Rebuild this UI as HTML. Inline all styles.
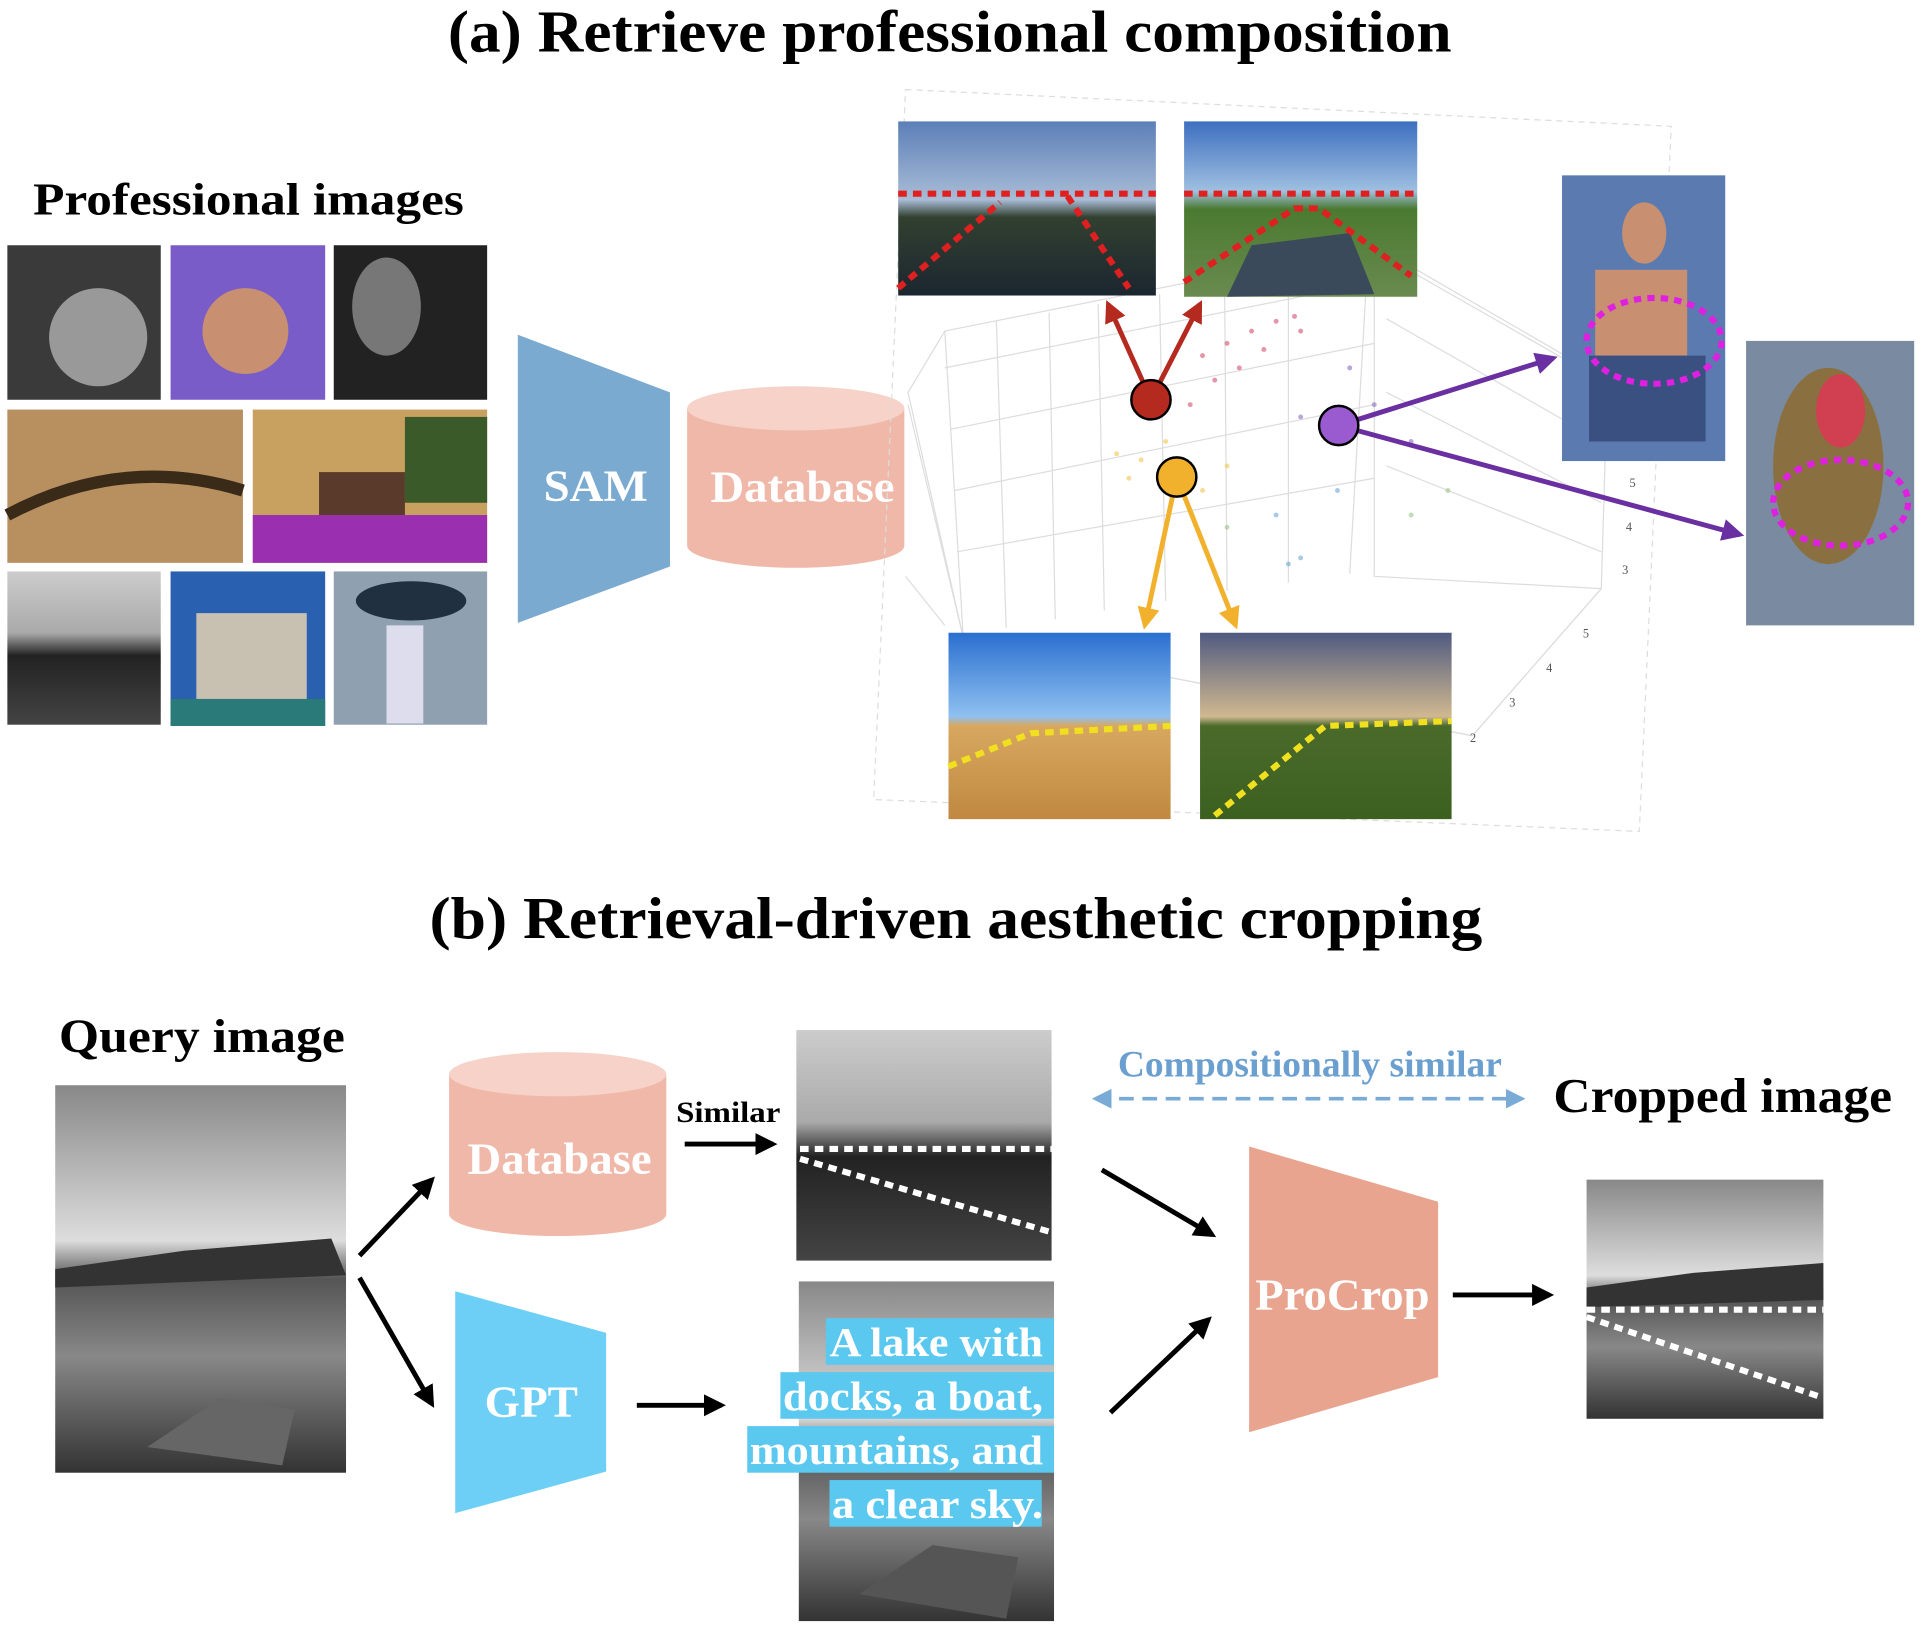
<!DOCTYPE html>
<html><head><meta charset="utf-8"><style>
html,body{margin:0;padding:0;background:#fff;}
svg{display:block;}
text{font-family:"Liberation Serif",serif;font-weight:bold;}
</style></head><body>
<svg width="1924" height="1626" viewBox="0 0 1568 1326" preserveAspectRatio="none" xmlns="http://www.w3.org/2000/svg">
<defs>
<marker id="k" viewBox="0 0 10 10" refX="8" refY="5" markerWidth="18" markerHeight="18" orient="auto" markerUnits="userSpaceOnUse"><path d="M0,0 L10,5 L0,10 z" fill="#000"/></marker>
<marker id="r" viewBox="0 0 10 10" refX="8" refY="5" markerWidth="18" markerHeight="18" orient="auto" markerUnits="userSpaceOnUse"><path d="M0,0 L10,5 L0,10 z" fill="#b52a1e"/></marker>
<marker id="y" viewBox="0 0 10 10" refX="8" refY="5" markerWidth="18" markerHeight="18" orient="auto" markerUnits="userSpaceOnUse"><path d="M0,0 L10,5 L0,10 z" fill="#f2b12c"/></marker>
<marker id="p" viewBox="0 0 10 10" refX="8" refY="5" markerWidth="18" markerHeight="18" orient="auto" markerUnits="userSpaceOnUse"><path d="M0,0 L10,5 L0,10 z" fill="#6a2fa0"/></marker>
<marker id="b" viewBox="0 0 10 10" refX="8" refY="5" markerWidth="16" markerHeight="16" orient="auto-start-reverse" markerUnits="userSpaceOnUse"><path d="M0,0 L10,5 L0,10 z" fill="#7aaad6"/></marker>
<linearGradient id="sky" x1="0" y1="0" x2="0" y2="1"><stop offset="0" stop-color="#5c7fb8"/><stop offset="0.45" stop-color="#a8bcd6"/><stop offset="0.55" stop-color="#324030"/><stop offset="1" stop-color="#1c2630"/></linearGradient>
<linearGradient id="sky2" x1="0" y1="0" x2="0" y2="1"><stop offset="0" stop-color="#3d6fc0"/><stop offset="0.4" stop-color="#9fc0e0"/><stop offset="0.5" stop-color="#4a7a30"/><stop offset="1" stop-color="#6a8a50"/></linearGradient>
<linearGradient id="desert" x1="0" y1="0" x2="0" y2="1"><stop offset="0" stop-color="#2a6fd0"/><stop offset="0.45" stop-color="#8fc0f0"/><stop offset="0.5" stop-color="#d8a860"/><stop offset="1" stop-color="#c08840"/></linearGradient>
<linearGradient id="field" x1="0" y1="0" x2="0" y2="1"><stop offset="0" stop-color="#505a80"/><stop offset="0.45" stop-color="#d0b890"/><stop offset="0.5" stop-color="#4a6a2a"/><stop offset="1" stop-color="#3c6020"/></linearGradient>
<linearGradient id="gray1" x1="0" y1="0" x2="0" y2="1"><stop offset="0" stop-color="#888"/><stop offset="0.4" stop-color="#ddd"/><stop offset="0.5" stop-color="#555"/><stop offset="0.7" stop-color="#888"/><stop offset="1" stop-color="#333"/></linearGradient>
<linearGradient id="gray2" x1="0" y1="0" x2="0" y2="1"><stop offset="0" stop-color="#ccc"/><stop offset="0.4" stop-color="#aaa"/><stop offset="0.55" stop-color="#222"/><stop offset="1" stop-color="#444"/></linearGradient>
</defs>

<text x="365" y="42" font-size="48" textLength="818" lengthAdjust="spacingAndGlyphs">(a) Retrieve professional composition</text>
<text x="27" y="175" font-size="37" textLength="351" lengthAdjust="spacingAndGlyphs">Professional images</text>

<rect x="6" y="200" width="125" height="126" fill="#3a3a3a"/><circle cx="80" cy="275" r="40" fill="#999"/>
<rect x="139" y="200" width="126" height="126" fill="#7a5cc8"/><circle cx="200" cy="270" r="35" fill="#c89070"/>
<rect x="272" y="200" width="125" height="126" fill="#222"/><ellipse cx="315" cy="250" rx="28" ry="40" fill="#777"/>
<rect x="6" y="334" width="192" height="125" fill="#b89060"/><path d="M6,420 Q100,370 198,400" stroke="#3a2a18" stroke-width="10" fill="none"/>
<rect x="206" y="334" width="191" height="125" fill="#c8a060"/><rect x="206" y="420" width="191" height="39" fill="#9a30b0"/><rect x="260" y="385" width="70" height="35" fill="#5a3a2a"/><rect x="330" y="340" width="67" height="70" fill="#3a5a2a"/>
<rect x="6" y="466" width="125" height="125" fill="url(#gray2)"/>
<rect x="139" y="466" width="126" height="126" fill="#2a60b0"/><rect x="160" y="500" width="90" height="70" fill="#c8c0b0"/><rect x="139" y="570" width="126" height="22" fill="#2a7a7a"/>
<rect x="272" y="466" width="125" height="125" fill="#8fa0b0"/><ellipse cx="335" cy="490" rx="45" ry="16" fill="#203040"/><rect x="315" y="510" width="30" height="80" fill="#dde"/>

<polygon points="422,273 546,320 546,462 422,508" fill="#7aaad0"/>
<text x="443" y="408" font-size="36" fill="#fff" textLength="85" lengthAdjust="spacingAndGlyphs">SAM</text>
<path d="M560,333 L560,445 A88.5,18 0 0 0 737,445 L737,333 Z" fill="#f0b8a8"/>
<ellipse cx="648.5" cy="333" rx="88.5" ry="18" fill="#f6d2c8"/>
<text x="579" y="409" font-size="36" fill="#fff" textLength="150" lengthAdjust="spacingAndGlyphs">Database</text>

<g stroke="#ddd" stroke-width="1" fill="none">
<path d="M738,73 L1362,103 L1336,678 L712,652 Z" stroke-dasharray="5,4"/>
<path d="M740,320 L770,270 L1120,200 L1310,310 L1305,480 L1200,600 L785,520 Z"/>
<path d="M785,520 L770,270 M820,512 L812,262 M860,505 L855,255 M900,498 L895,248 M950,490 L945,240 M1000,482 L998,232 M1050,475 L1050,225 M1100,468 L1115,205"/>
<path d="M1200,600 L1305,480 M785,520 L1200,600 M1120,200 L1120,470 L1305,480"/>
<path d="M770,300 L1120,230 M775,350 L1120,280 M778,400 L1120,330 M780,450 L1120,390"/>
<path d="M1130,210 L1305,310 M1130,260 L1305,360 M1130,320 L1305,410 M1130,380 L1305,450"/>
<path d="M740,330 L785,520 M738,470 L770,510"/>
</g>
<g fill="#555" font-size="10">
<text x="1328" y="397" style="font-weight:normal">5</text><text x="1325" y="433" style="font-weight:normal">4</text><text x="1322" y="468" style="font-weight:normal">3</text>
<text x="1290" y="520" style="font-weight:normal">5</text><text x="1260" y="548" style="font-weight:normal">4</text><text x="1230" y="576" style="font-weight:normal">3</text><text x="1198" y="605" style="font-weight:normal">2</text>
</g>
<g opacity="0.55">
<g fill="#d04060"><circle cx="980" cy="290" r="2"/><circle cx="1000" cy="280" r="2"/><circle cx="1020" cy="270" r="2"/><circle cx="1040" cy="262" r="2"/><circle cx="1055" cy="258" r="2"/><circle cx="1010" cy="300" r="2"/><circle cx="990" cy="310" r="2"/><circle cx="1030" cy="285" r="2"/><circle cx="970" cy="330" r="2"/><circle cx="1060" cy="270" r="2"/></g>
<g fill="#f0c040"><circle cx="910" cy="370" r="2"/><circle cx="930" cy="375" r="2"/><circle cx="950" cy="360" r="2"/><circle cx="980" cy="400" r="2"/><circle cx="1000" cy="380" r="2"/><circle cx="920" cy="390" r="2"/></g>
<g fill="#8060c0"><circle cx="1060" cy="340" r="2"/><circle cx="1120" cy="330" r="2"/><circle cx="1150" cy="360" r="2"/><circle cx="1100" cy="300" r="2"/></g>
<g fill="#60a0d0"><circle cx="1050" cy="460" r="2"/><circle cx="1060" cy="455" r="2"/><circle cx="1090" cy="400" r="2"/><circle cx="1040" cy="420" r="2"/></g>
<g fill="#90c080"><circle cx="1150" cy="420" r="2"/><circle cx="1180" cy="400" r="2"/><circle cx="1000" cy="430" r="2"/></g>
</g>

<rect x="732" y="99" width="210" height="142" fill="url(#sky)"/>
<path d="M732,158 L942,158 M732,235 L815,165 M870,160 L920,235" stroke="#e02020" stroke-width="5" stroke-dasharray="7,5" fill="none"/>
<rect x="965" y="99" width="190" height="143" fill="url(#sky2)"/><path d="M1020,200 L1100,190 L1120,240 L1000,242 Z" fill="#3a4a5a"/>
<path d="M965,158 L1155,158 M965,230 L1055,170 L1075,170 L1150,225" stroke="#e02020" stroke-width="5" stroke-dasharray="7,5" fill="none"/>
<rect x="1273" y="143" width="133" height="233" fill="#5a7ab0"/><ellipse cx="1340" cy="190" rx="18" ry="25" fill="#c89070"/><rect x="1300" y="220" width="75" height="70" fill="#c89070"/><rect x="1295" y="290" width="95" height="70" fill="#3a5080"/>
<ellipse cx="1348" cy="278" rx="55" ry="35" stroke="#e020e0" stroke-width="5" stroke-dasharray="6,5" fill="none"/>
<rect x="1423" y="278" width="137" height="232" fill="#7a8aa0"/><ellipse cx="1490" cy="380" rx="45" ry="80" fill="#8a7040"/><ellipse cx="1500" cy="335" rx="20" ry="30" fill="#d04050"/>
<ellipse cx="1500" cy="410" rx="55" ry="35" stroke="#e020e0" stroke-width="5" stroke-dasharray="6,5" fill="none"/>
<rect x="773" y="516" width="181" height="152" fill="url(#desert)"/>
<path d="M773,625 L840,598 L954,592" stroke="#f0e020" stroke-width="5" stroke-dasharray="7,5" fill="none"/>
<rect x="978" y="516" width="205" height="152" fill="url(#field)"/>
<path d="M990,665 L1080,592 L1183,588" stroke="#f0e020" stroke-width="5" stroke-dasharray="7,5" fill="none"/>

<line x1="938" y1="326" x2="903" y2="248" stroke="#b52a1e" stroke-width="4" marker-end="url(#r)"/>
<line x1="938" y1="326" x2="978" y2="248" stroke="#b52a1e" stroke-width="4" marker-end="url(#r)"/>
<line x1="959" y1="389" x2="933" y2="510" stroke="#f2b12c" stroke-width="4" marker-end="url(#y)"/>
<line x1="959" y1="389" x2="1007" y2="510" stroke="#f2b12c" stroke-width="4" marker-end="url(#y)"/>
<line x1="1091" y1="347" x2="1266" y2="292" stroke="#6a2fa0" stroke-width="4" marker-end="url(#p)"/>
<line x1="1091" y1="347" x2="1418" y2="436" stroke="#6a2fa0" stroke-width="4" marker-end="url(#p)"/>
<circle cx="938" cy="326" r="16" fill="#b52a1e" stroke="#000" stroke-width="2"/>
<circle cx="959" cy="389" r="16" fill="#f2b12c" stroke="#000" stroke-width="2"/>
<circle cx="1091" cy="347" r="16" fill="#9a5ad0" stroke="#000" stroke-width="2"/>

<text x="350" y="765" font-size="48" textLength="858" lengthAdjust="spacingAndGlyphs">(b) Retrieval-driven aesthetic cropping</text>
<text x="48" y="858" font-size="39" textLength="233" lengthAdjust="spacingAndGlyphs">Query image</text>
<rect x="45" y="885" width="237" height="316" fill="url(#gray1)"/><path d="M45,1035 L150,1020 L270,1010 L282,1040 L45,1050 Z" fill="#333"/><path d="M120,1180 L180,1140 L240,1150 L230,1195 Z" fill="#666"/>

<path d="M366,876 L366,990 A88.5,18 0 0 0 543,990 L543,876 Z" fill="#f0b8a8"/>
<ellipse cx="454.5" cy="876" rx="88.5" ry="18" fill="#f6d2c8"/>
<text x="381" y="957" font-size="36" fill="#fff" textLength="150" lengthAdjust="spacingAndGlyphs">Database</text>
<text x="551" y="915" font-size="24" textLength="85" lengthAdjust="spacingAndGlyphs">Similar</text>
<line x1="558" y1="933" x2="630" y2="933" stroke="#000" stroke-width="4" marker-end="url(#k)"/>
<rect x="649" y="840" width="208" height="188" fill="url(#gray2)"/>
<path d="M652,937 L857,937 M652,945 L857,1005" stroke="#fff" stroke-width="5" stroke-dasharray="7,5" fill="none"/>

<line x1="293" y1="1024" x2="352" y2="962" stroke="#000" stroke-width="4" marker-end="url(#k)"/>
<line x1="293" y1="1042" x2="352" y2="1145" stroke="#000" stroke-width="4" marker-end="url(#k)"/>
<polygon points="371,1053 494,1087 494,1200 371,1234" fill="#6ecff6"/>
<text x="395" y="1155" font-size="36" fill="#fff" textLength="76" lengthAdjust="spacingAndGlyphs">GPT</text>
<line x1="519" y1="1146" x2="588" y2="1146" stroke="#000" stroke-width="4" marker-end="url(#k)"/>

<rect x="651" y="1045" width="208" height="277" fill="url(#gray1)"/><path d="M700,1300 L760,1260 L830,1270 L820,1320 Z" fill="#555"/>
<rect x="673" y="1075" width="186" height="38" fill="#5bc8f0"/>
<rect x="636" y="1119" width="223" height="38" fill="#5bc8f0"/>
<rect x="609" y="1163" width="250" height="38" fill="#5bc8f0"/>
<rect x="676" y="1207" width="173" height="38" fill="#5bc8f0"/>
<g fill="#fff" font-size="34">
<text x="676" y="1106" textLength="174" lengthAdjust="spacingAndGlyphs">A lake with</text><text x="638" y="1150" textLength="212" lengthAdjust="spacingAndGlyphs">docks, a boat,</text><text x="611" y="1194" textLength="239" lengthAdjust="spacingAndGlyphs">mountains, and</text><text x="678" y="1238" textLength="172" lengthAdjust="spacingAndGlyphs">a clear sky.</text></g>

<text x="911" y="878" font-size="30" fill="#6a9fd0" textLength="313" lengthAdjust="spacingAndGlyphs">Compositionally similar</text>
<line x1="893" y1="896" x2="1240" y2="896" stroke="#7aaad6" stroke-width="3" stroke-dasharray="12,7" marker-start="url(#b)" marker-end="url(#b)"/>
<text x="1266" y="907" font-size="40" textLength="276" lengthAdjust="spacingAndGlyphs">Cropped image</text>

<line x1="898" y1="954" x2="988" y2="1007" stroke="#000" stroke-width="4" marker-end="url(#k)"/>
<line x1="905" y1="1152" x2="985" y2="1076" stroke="#000" stroke-width="4" marker-end="url(#k)"/>
<polygon points="1018,935 1172,980 1172,1123 1018,1168" fill="#e8a48e"/>
<text x="1023" y="1068" font-size="36" fill="#fff" textLength="142" lengthAdjust="spacingAndGlyphs">ProCrop</text>
<line x1="1184" y1="1056" x2="1263" y2="1056" stroke="#000" stroke-width="4" marker-end="url(#k)"/>
<rect x="1293" y="962" width="193" height="195" fill="url(#gray1)"/><path d="M1293,1050 L1380,1038 L1486,1030 L1486,1060 L1293,1066 Z" fill="#333"/>
<path d="M1293,1068 L1486,1068 M1293,1074 L1486,1140" stroke="#fff" stroke-width="5" stroke-dasharray="7,5" fill="none"/>
</svg>
</body></html>
